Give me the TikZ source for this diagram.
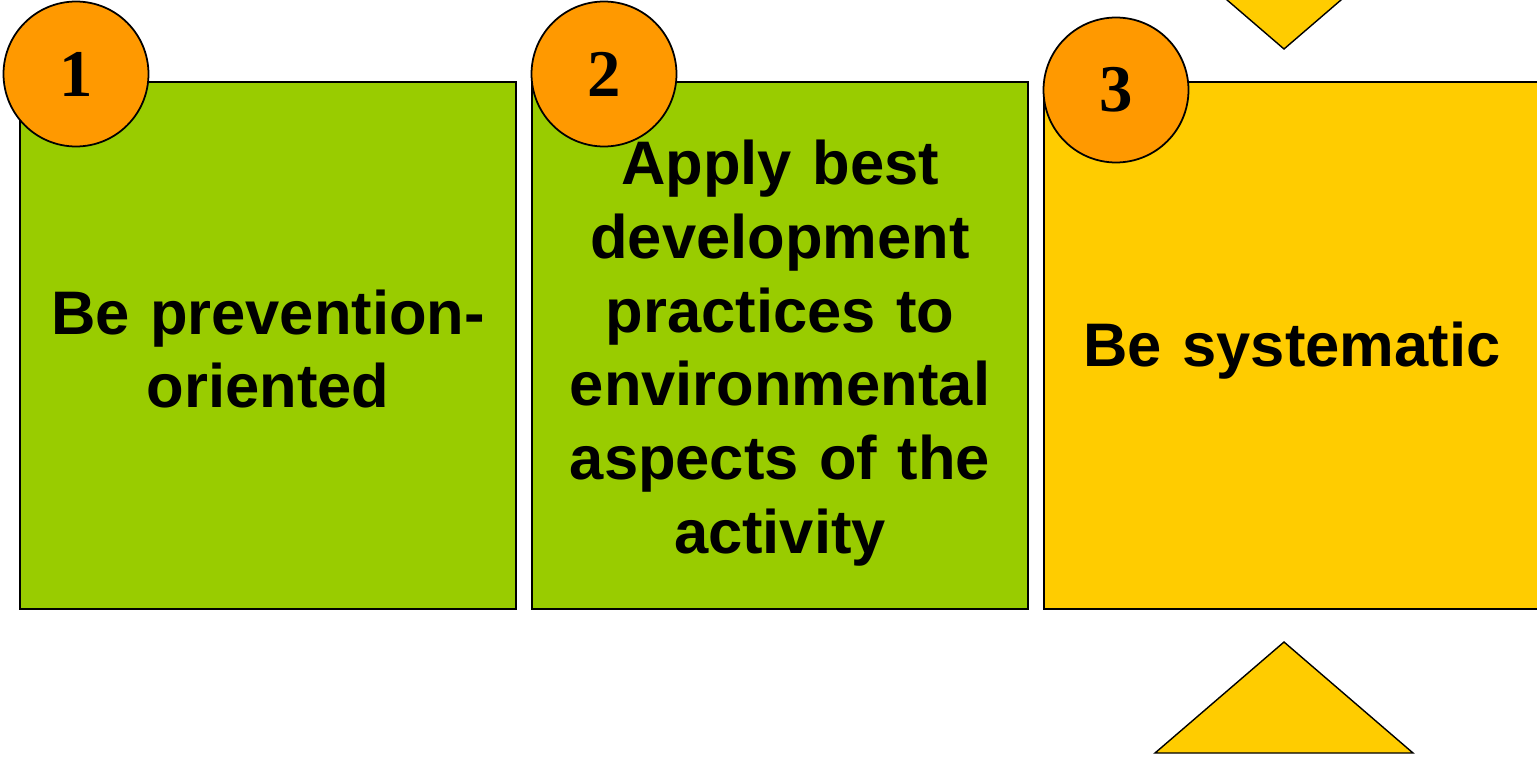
\documentclass[tikz,border=0pt]{standalone}
\usepackage{fontspec}
\setmainfont{Liberation Sans}
\newfontfamily\numfont{Liberation Serif}
\definecolor{boxgreen}{HTML}{99CC00}
\definecolor{boxyellow}{HTML}{FFCC00}
\definecolor{numorange}{HTML}{FF9900}
\begin{document}
\begin{tikzpicture}
[x=0.02cm,y=-0.02cm,%
  boxDecorate/.style={shape=rectangle,draw,line width=0.8pt,inner sep=0pt,
    minimum width=9.92cm,minimum height=10.54cm},%
  textDecorate/.style={inner sep=0pt,text width=9.3cm,align=center,
    font=\fontsize{35}{42}\selectfont\bfseries},%
  numDecorate/.style={shape=circle,draw,line width=1pt,fill=numorange,inner sep=0pt,
    minimum size=2.9cm,font=\numfont\fontsize{38}{38}\selectfont\bfseries},%
  wedgeDecorate/.style={draw,line width=0.8pt,fill=boxyellow}]
\useasboundingbox (0,0) rectangle (1537,757);
\clip (0,0) rectangle (1537,757);
%% boxes
\foreach \boxname/\x/\dy/\boxcolor/\boxtext in {
  box1/268/3.5/boxgreen/{Be prevention-\\oriented},
  box2/780/7.5/boxgreen/{Apply best\\development\\practices to\\environmental\\aspects of the\\activity},
  box3/1292/5.5/boxyellow/{Be systematic}}
{
  \node (\boxname) at (\x,345.5) [boxDecorate,fill=\boxcolor] {};
  \node (\boxname text) at (\boxname.center) [textDecorate,yshift=-\dy*0.02cm] {\boxtext};
}
%% numbers
\foreach \nodename/\x/\y/\num in {
  num1/76/74/1, num2/604/74/2, num3/1116/90/3}
{
  \node (\nodename) at (\x,\y) [numDecorate] {\num};
}
%% wedges
\draw[wedgeDecorate] (1155,-62) -- (1413,-62) -- (1284,49) -- cycle;
\draw[wedgeDecorate] (1155,753) -- (1413,753) -- (1284,642) -- cycle;
\end{tikzpicture}
\end{document}
